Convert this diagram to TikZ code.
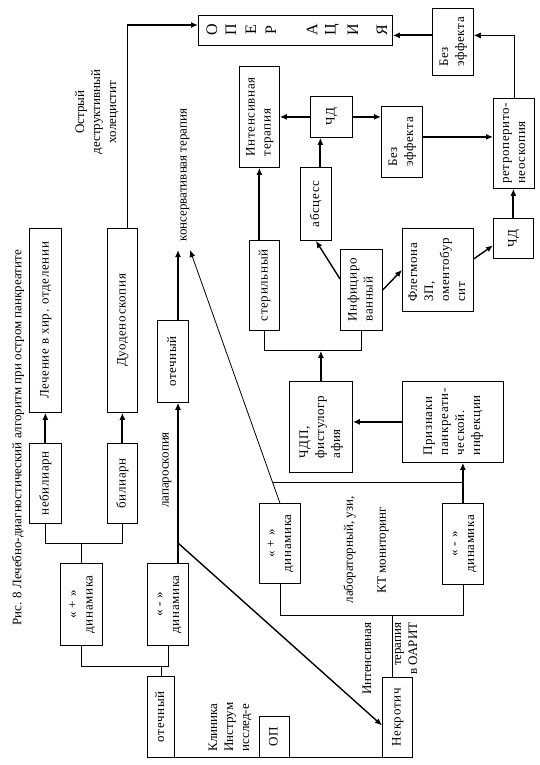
\documentclass[tikz,border=0pt]{standalone}
\usepackage{fontspec}
\setmainfont{Liberation Serif}
\usepackage{graphicx}
\usetikzlibrary{arrows.meta,calc}

% rotated text, lines stacked from left to right
\newcommand{\rtxt}[2][c]{\addfontfeatures{LetterSpace=5}%
  \rotatebox{90}{\begin{tabular}{@{}#1@{}}#2\end{tabular}}}

\tikzset{
  every node/.style={font=\fontsize{13}{16}\selectfont},
  box/.style={draw, line width=0.8pt, inner sep=0pt, anchor=north west},
  sz/.style 2 args={minimum width=#1, minimum height=#2},
  thn/.style={line width=0.8pt},
  med/.style={line width=1.4pt},
  thk/.style={line width=2pt},
  >={Latex[length=7pt,width=6pt]}
}

\begin{document}
\begin{tikzpicture}[x=1pt,y=-1pt]
		\useasboundingbox (0,0) rectangle (540,765);
		
		% Title
		\node[rotate=90] (title) at (18,438)
		{Рис. 8 Лечебно-диагностический алгоритм при остром панкреатите};
		
		% Left column
		\node[box, sz={32}{184}] (lech)   at (29,228)  {\rtxt{Лечение в хир. отделении}};
		\node[box, sz={30}{184}] (duod)   at (107,228) {\rtxt{Дуоденоскопия}};
		\node[box, sz={32}{80}]  (nebil)  at (29,443)  {\rtxt{небилиарн}};
		\node[box, sz={30}{80}]  (bil)    at (107,443) {\rtxt{билиарн}};
		\node[box, sz={42}{82}]  (plusL)  at (60,563)  {\rtxt{« + »\\динамика}};
		\node[box, sz={41}{82}]  (minusL) at (147,563) {\rtxt{« - »\\динамика}};
		\node[box, sz={27}{81}]  (otechL) at (147,676) {\rtxt{отечный}};
		\node[box, sz={31}{82}]  (otechU) at (157,320) {\rtxt{отечный}};
		\node[box, sz={30}{41}]  (op)     at (259,716) {\rtxt{ОП}};
		\node[box, sz={30}{80}]  (nekr)   at (382,677) {\rtxt{Некротич}};
		
		% Middle and right
		\node[box, sz={41}{80}]  (plusR)  at (259,503) {\rtxt{« + »\\динамика}};
		\node[box, sz={41}{81}]  (minusR) at (442,503) {\rtxt{« - »\\динамика}};
		\node[box, sz={63}{91}]  (chdp)   at (289,381) {\rtxt[l]{ЧДП,\\фистулогр\\афия}};
		\node[box, sz={101}{81}] (priz)   at (402,381) {\rtxt[l]{Признаки\\панкреати-\\ческой.\\инфекции}};
		\node[box, sz={30}{90}]  (steril) at (249,240) {\rtxt{стерильный}};
		\node[box, sz={42}{81}]  (infic)  at (340,249) {\rtxt[l]{Инфициро\\ванный}};
		\node[box, sz={31}{73}]  (absc)   at (300,167) {\rtxt{абсцесс}};
		\node[box, sz={71}{83}]  (flegm)  at (402,228) {\rtxt[l]{Флегмона\\ЗП,\\оментобур\\сит}};
		\node[box, sz={42}{41}]  (chdA)   at (310,96)  {\rtxt{ЧД}};
		\node[box, sz={40}{101}] (intens) at (239,66)  {\rtxt[l]{Интенсивная\\терапия}};
		\node[box, sz={41}{71}]  (bezA)   at (381,106) {\rtxt[l]{Без\\эффекта}};
		\node[box, sz={41}{90}]  (retro)  at (493,98)  {\rtxt[l]{ретроперито-\\неоскопия}};
		\node[box, sz={40}{40}]  (chdB)   at (493,218) {\rtxt{ЧД}};
		\node[box, sz={41}{67}]  (bezB)   at (432,8)   {\rtxt[l]{Без\\эффекта}};
		
		% Operation box, one letter at a time
		\node[box, sz={194}{30}] (oper) at (198,15) {};
		\foreach \l/\x in {О/212,П/231,Е/251,Р/271,А/312,Ц/332,И/353,Я/382}
		\node[rotate=90, font=\fontsize{16}{18}\selectfont] (let\x) at (\x,30) {\l};
		
		% Free labels
		\node[rotate=90, align=center] (chol) at (97,112)
		{Острый\\деструктивный\\холецистит};
		\node[rotate=90] (laplbl) at (167,470) {лапароскопия};
		\node[rotate=90, anchor=west] (konslbl) at (185,245) {консервативная терапия};
		\node[rotate=90, anchor=west, align=left] (klin) at (230,755)
		{Клиника\\Инструм\\исслед-е};
		\node[rotate=90, align=center] (monlbl) at (366,550)
		{лабораторный, узи,\\[17pt]КТ мониторинг};
		\node[rotate=90, anchor=east, align=right] (oarit) at (390,619)
		{Интенсивная\\[14pt]терапия\\в ОАРИТ};
		
		% Helper points
		\coordinate (lap)   at (178,543);
		\coordinate (kons)  at (178,250);
		\coordinate (konsB) at (190,250);
		\coordinate (dtop)  at (127,25);
		
		% Left brackets
		\draw[thk,->] (nebil) -- (lech);
		\draw[thk,->] (bil) -- (duod);
		\draw[thn] (nebil.south) -- ++(0,20) -| (bil.south);
		\draw[thn] (plusL.north) -- ++(0,-20);
		\draw[thn] (plusL.south) -- ++(0,21) -| (minusL.south);
		\draw[thn] (otechL.north) -- ++(0,-10);
		
		% Bottom line
		\draw[thn] (otechL.south east) -- (nekr.south west);
		
		% Laparoscopy branch
		\draw[thk] (minusL.north -| lap) -- (lap);
		\draw[thk,->] (lap) -- (lap |- otechU.south);
		\draw[thk,->] (otechU.north -| kons) -- (kons);
		\draw[med,->] (lap) -- ([yshift=-8pt]nekr.west);
		
		% Duodenoscopy to operation
		\draw[thn] (dtop |- duod.north) -- (dtop);
		\draw[thk,->] (dtop) -- (dtop -| oper.west);
		
		% Monitoring brackets
		\draw[thn,->] (plusR.north) -- (konsB)
		coordinate[pos=0.08] (pj);
		\draw[thk,->] (minusR.north) -- (minusR.north |- priz.south);
		\draw[thn] (pj) -- (pj -| minusR.north);
		\draw[thn] (plusR.south) -- ++(0,32) coordinate (rb) -| (minusR.south);
		\draw[thn] ([xshift=-5pt]nekr.north) -- ([xshift=-5pt]nekr.north |- rb);
		
		% Infection branch
		\draw[thk,->] (priz.west) -- (priz.west -| chdp.east);
		\draw[thn] (steril.south) -- ++(0,20) coordinate (mb) -| (infic.south);
		\draw[thk,->] (chdp.north) -- (chdp.north |- mb);
		\draw[thk,->] (steril.north -| intens.south) -- (intens.south);
		\draw[med,->] ([yshift=11pt]infic.west) -- (absc.south);
		\draw[med,->] (infic.east) -- (flegm.west);
		\draw[med,->] ([yshift=11pt]flegm.east) -- ([yshift=-7pt]chdB.west);
		\draw[thk,->] ([xshift=4.5pt]absc.north) -- ([xshift=4.5pt]absc.north |- chdA.south);
		\draw[thk,->] (chdA.west) -- (chdA.west -| intens.east);
		\draw[thk,->] (chdA.east) -- (chdA.east -| bezA.west);
		\draw[thk,->] ([yshift=5pt]bezA.east) -- ([yshift=5pt]bezA.east -| retro.west);
		\draw[thk,->] (chdB.north) -- (chdB.north |- retro.south);
		\draw[thn,->] (retro.north) |- ([yshift=6.5pt]bezB.east);
		\draw[thk,->] ([yshift=6.5pt]bezB.west) -- ([yshift=6.5pt]bezB.west -| oper.east);
		
\end{tikzpicture}
\end{document}
